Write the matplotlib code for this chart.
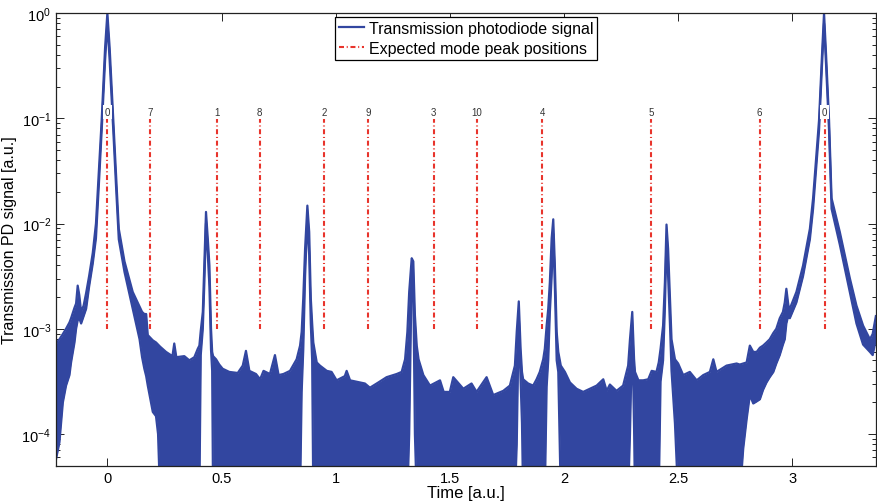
import numpy as np
import matplotlib
matplotlib.use("Agg")
import matplotlib.pyplot as plt

plt.rcParams['font.family'] = ['Liberation Sans', 'DejaVu Sans']
plt.rcParams['mathtext.fontset'] = 'custom'
plt.rcParams['mathtext.rm'] = 'Liberation Sans'
plt.rcParams['mathtext.it'] = 'Liberation Sans:italic'

# photodiode trace, read off the picture as a band (top / bottom edge of the noise)
# values are log10 of the signal; -4.6 means the noise runs off the bottom of the plot
time = [-0.225, -0.210, -0.195, -0.181, -0.166, -0.159, -0.144, -0.137, -0.130, -0.123,
        -0.115, -0.104, -0.093, -0.080, -0.064, -0.050, -0.037, -0.025, -0.010, 0.000,
        0.010, 0.026, 0.038, 0.050, 0.075, 0.111, 0.141, 0.152, 0.162, 0.170,
        0.177, 0.199, 0.213, 0.222, 0.231, 0.257, 0.285, 0.293, 0.302, 0.337,
        0.359, 0.381, 0.396, 0.403, 0.409, 0.418, 0.425, 0.432, 0.440, 0.447,
        0.454, 0.459, 0.463, 0.476, 0.490, 0.505, 0.534, 0.571, 0.593, 0.607,
        0.622, 0.651, 0.669, 0.684, 0.712, 0.734, 0.750, 0.771, 0.800, 0.829,
        0.844, 0.851, 0.858, 0.866, 0.876, 0.884, 0.891, 0.897, 0.902, 0.917,
        0.931, 0.961, 0.982, 1.004, 1.040, 1.048, 1.063, 1.106, 1.128, 1.150,
        1.187, 1.223, 1.267, 1.289, 1.304, 1.314, 1.322, 1.333, 1.340, 1.347,
        1.355, 1.363, 1.384, 1.413, 1.457, 1.473, 1.500, 1.515, 1.559, 1.595,
        1.617, 1.661, 1.690, 1.734, 1.763, 1.785, 1.793, 1.802, 1.810, 1.816,
        1.821, 1.843, 1.865, 1.880, 1.894, 1.909, 1.916, 1.924, 1.931, 1.938,
        1.946, 1.953, 1.960, 1.968, 1.975, 1.986, 2.004, 2.026, 2.055, 2.084,
        2.113, 2.143, 2.172, 2.187, 2.201, 2.230, 2.259, 2.281, 2.289, 2.299,
        2.307, 2.311, 2.326, 2.347, 2.369, 2.384, 2.405, 2.415, 2.423, 2.434,
        2.442, 2.449, 2.456, 2.464, 2.471, 2.486, 2.500, 2.522, 2.551, 2.581,
        2.610, 2.639, 2.654, 2.668, 2.712, 2.756, 2.770, 2.785, 2.800, 2.814,
        2.829, 2.844, 2.858, 2.872, 2.887, 2.901, 2.917, 2.930, 2.945, 2.959,
        2.967, 2.974, 2.983, 2.989, 3.018, 3.047, 3.077, 3.091, 3.117, 3.130,
        3.139, 3.148, 3.161, 3.172, 3.208, 3.252, 3.281, 3.310, 3.340, 3.352,
        3.366]
upper_log10 = [-3.14, -3.10, -3.05, -3.00, -2.94, -2.90, -2.80, -2.76, -2.59, -2.68,
               -2.84, -2.78, -2.66, -2.50, -2.28, -2.00, -1.50, -1.02, -0.33, 0.00,
               -0.33, -1.02, -1.55, -2.05, -2.36, -2.65, -2.79, -2.84, -2.86, -2.86,
               -3.06, -3.11, -3.13, -3.15, -3.17, -3.22, -3.26, -3.14, -3.27, -3.26,
               -3.30, -3.27, -3.19, -3.16, -3.02, -2.84, -2.36, -1.89, -2.15, -2.40,
               -3.00, -3.22, -3.26, -3.29, -3.34, -3.38, -3.41, -3.42, -3.35, -3.21,
               -3.40, -3.43, -3.48, -3.40, -3.43, -3.25, -3.44, -3.43, -3.40, -3.29,
               -3.16, -3.03, -2.71, -2.24, -1.83, -2.08, -2.71, -2.95, -3.13, -3.32,
               -3.35, -3.40, -3.41, -3.49, -3.45, -3.40, -3.49, -3.51, -3.52, -3.56,
               -3.51, -3.46, -3.43, -3.41, -3.29, -3.03, -2.65, -2.33, -2.36, -2.87,
               -3.16, -3.29, -3.44, -3.54, -3.49, -3.60, -3.60, -3.46, -3.57, -3.52,
               -3.60, -3.46, -3.63, -3.59, -3.54, -3.35, -3.03, -2.74, -3.19, -3.41,
               -3.48, -3.52, -3.54, -3.48, -3.41, -3.29, -3.19, -2.97, -2.81, -2.56,
               -2.14, -1.96, -2.40, -3.03, -3.22, -3.35, -3.41, -3.51, -3.57, -3.60,
               -3.57, -3.54, -3.48, -3.59, -3.53, -3.59, -3.54, -3.35, -3.10, -2.84,
               -3.29, -3.41, -3.49, -3.49, -3.48, -3.40, -3.41, -3.32, -3.19, -2.97,
               -2.56, -2.01, -2.24, -2.71, -3.10, -3.29, -3.33, -3.44, -3.41, -3.49,
               -3.44, -3.41, -3.29, -3.41, -3.35, -3.33, -3.34, -3.33, -3.32, -3.16,
               -3.22, -3.22, -3.18, -3.16, -3.13, -3.10, -3.04, -3.00, -2.90, -2.84,
               -2.75, -2.62, -2.78, -2.81, -2.65, -2.40, -2.05, -1.76, -1.02, -0.40,
               0.00, -0.40, -1.02, -1.76, -2.08, -2.52, -2.78, -2.97, -3.10, -3.05,
               -2.88]
lower_log10 = [-4.24, -4.08, -3.70, -3.54, -3.44, -3.32, -3.13, -3.00, -2.92, -2.90,
               -2.95, -2.88, -2.81, -2.60, -2.38, -2.14, -1.62, -1.12, -0.45, -0.10,
               -0.45, -1.12, -1.65, -2.15, -2.46, -2.81, -3.10, -3.27, -3.38, -3.45,
               -3.54, -3.79, -3.83, -4.00, -4.6, -4.6, -4.6, -4.6, -4.6, -4.6,
               -4.6, -4.6, -4.6, -4.6, -3.25, -3.00, -2.55, -2.00, -2.30, -2.60,
               -3.20, -3.40, -4.6, -4.6, -4.6, -4.6, -4.6, -4.6, -4.6, -4.6,
               -4.6, -4.6, -4.6, -4.6, -4.6, -4.6, -4.6, -4.6, -4.6, -4.6,
               -4.6, -3.60, -3.20, -2.50, -1.95, -2.30, -2.95, -3.30, -4.6, -4.6,
               -4.6, -4.6, -4.6, -4.6, -4.6, -4.6, -4.6, -4.6, -4.6, -4.6,
               -4.6, -4.6, -4.6, -4.6, -4.6, -4.6, -4.00, -2.45, -2.60, -4.00,
               -4.6, -4.6, -4.6, -4.6, -4.6, -4.6, -4.6, -4.6, -4.6, -4.6,
               -4.6, -4.6, -4.6, -4.6, -4.6, -4.6, -4.10, -2.90, -3.50, -3.90,
               -4.6, -4.6, -4.6, -4.6, -4.6, -4.6, -4.6, -3.55, -3.30, -2.85,
               -2.50, -2.10, -2.60, -3.30, -3.41, -4.6, -4.6, -4.6, -4.6, -4.6,
               -4.6, -4.6, -4.6, -4.6, -4.6, -4.6, -4.6, -4.6, -4.00, -3.00,
               -3.95, -4.6, -4.6, -4.6, -4.6, -4.6, -4.6, -4.6, -3.50, -3.30,
               -2.80, -2.15, -2.50, -2.95, -3.40, -3.90, -4.6, -4.6, -4.6, -4.6,
               -4.6, -4.6, -4.6, -4.6, -4.6, -4.6, -4.6, -4.14, -3.86, -3.63,
               -3.71, -3.69, -3.67, -3.58, -3.51, -3.46, -3.41, -3.33, -3.25, -3.15,
               -3.10, -2.95, -2.87, -2.90, -2.75, -2.50, -2.15, -1.86, -1.12, -0.50,
               -0.10, -0.50, -1.12, -1.86, -2.20, -2.65, -2.95, -3.15, -3.22, -3.25,
               -3.10]

# expected mode peaks (red dash-dot markers)
mode_labels = ['0', '7', '1', '8', '2', '9', '3', '10', '4', '5', '6', '0']
mode_pos = [0.0, 0.188, 0.478, 0.667, 0.950, 1.142, 1.429, 1.619, 1.904, 2.380, 2.857, 3.142]
mode_bottom = 1e-3
mode_top = 1e-1
mode_label_y = 0.115

blue = '#3246a0'
red = '#e8342c'

t = np.array(time)
up = 10.0 ** np.array(upper_log10)
lo = 10.0 ** np.array(lower_log10)

fig = plt.figure(figsize=(8.77, 5.02), dpi=100)
ax = fig.add_axes([56 / 877, 1 - 466.7 / 502, 820 / 877, 452.7 / 502])

ax.fill_between(t, lo, up, color=blue, lw=0, zorder=2)
ax.plot(t, up, color=blue, lw=1.6, zorder=2, label='Transmission photodiode signal')
ax.plot(t, lo, color=blue, lw=1.6, zorder=2)

ax.vlines(mode_pos, mode_bottom, mode_top, colors=red, linestyles=(0, (2.4, 1.3, 0.5, 1.3)),
          lw=1.5, zorder=3, label='Expected mode peak positions')
for p, s in zip(mode_pos, mode_labels):
    ax.text(p, mode_label_y, s, ha='center', va='center', fontsize=7, color='#333333', zorder=4,
            bbox=dict(facecolor='white', edgecolor='none', pad=1.2))

ax.set_yscale('log')
ax.set_ylim(5e-5, 1)
ax.set_xlim(-0.225, np.pi + 0.225)
ax.set_xticks([0, 0.5, 1, 1.5, 2, 2.5, 3])
ax.set_xticklabels(['0', '0.5', '1', '1.5', '2', '2.5', '3'])

ax.tick_params(which='both', direction='in', top=True, right=True, labelsize=10.5, width=0.6)
ax.tick_params(which='major', length=5.5, pad=3.5)
ax.tick_params(which='minor', length=3)
for sp in ax.spines.values():
    sp.set_linewidth(0.9)
    sp.set_color('#222222')

ax.set_xlabel('Time [a.u.]', fontsize=12)
ax.xaxis.set_label_coords(0.5, -0.042)
ax.set_ylabel('Transmission PD signal [a.u.]', fontsize=11.5)
ax.yaxis.set_label_coords(-0.047, 0.5)

leg = ax.legend(loc='upper center', bbox_to_anchor=(0.5, 1.0), fontsize=11.5, fancybox=False,
                framealpha=1, edgecolor='black', borderaxespad=0.25, handlelength=1.6,
                handletextpad=0.3, borderpad=0.25, labelspacing=0.3)
leg.get_frame().set_linewidth(0.9)

fig.savefig('out.png', dpi=100)
